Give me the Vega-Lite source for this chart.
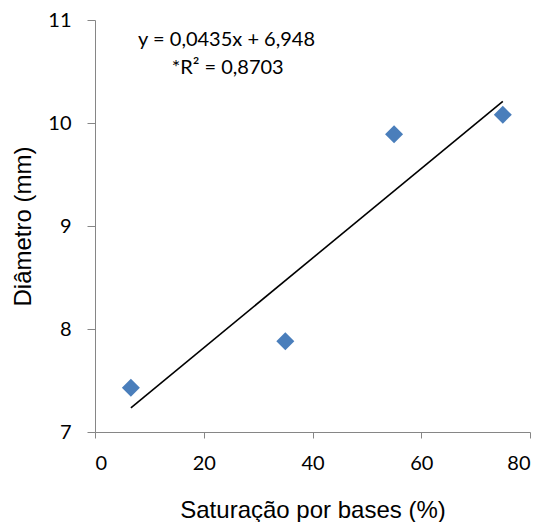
{
  "$schema": "https://vega.github.io/schema/vega-lite/v6.json",
  "width": 435,
  "height": 412,
  "autosize": "none",
  "padding": {"left": 95, "top": 20, "right": 18, "bottom": 90},
  "background": "white",
  "config": {"view": {"stroke": null}},
  "datasets": {
    "points": [
      {"sat": 6.6, "diam": 7.43},
      {"sat": 35, "diam": 7.88},
      {"sat": 55, "diam": 9.89},
      {"sat": 75, "diam": 10.08}
    ],
    "trend": [
      {"sat": 6.6, "diam": 7.235},
      {"sat": 75, "diam": 10.21}
    ],
    "notes": [
      {"sat": 24.2, "diam": 10.81, "label": "y = 0,0435x + 6,948"},
      {"sat": 24.4, "diam": 10.53, "label": "*R² = 0,8703"}
    ]
  },
  "encoding": {
    "x": {
      "field": "sat", "type": "quantitative",
      "scale": {"domain": [0, 80], "nice": false, "zero": false},
      "axis": {
        "title": "Saturação por bases (%)",
        "values": [0, 20, 40, 60, 80],
        "grid": false,
        "domainColor": "#868686", "tickColor": "#868686",
        "tickSize": 6, "labelPadding": 15,
        "labelFont": "Lato", "labelFontSize": 20, "labelColor": "#000000",
        "titleFont": "Liberation Sans", "titleFontSize": 24, "titleFontWeight": "normal",
        "titleColor": "#000000", "titlePadding": 25
      }
    },
    "y": {
      "field": "diam", "type": "quantitative",
      "scale": {"domain": [7, 11], "nice": false, "zero": false},
      "axis": {
        "title": "Diâmetro (mm)",
        "values": [7, 8, 9, 10, 11],
        "grid": false,
        "domainColor": "#868686", "tickColor": "#868686",
        "tickSize": 8, "labelPadding": 16,
        "labelFont": "Lato", "labelFontSize": 20, "labelColor": "#000000",
        "titleFont": "Liberation Sans", "titleFontSize": 24, "titleFontWeight": "normal",
        "titleColor": "#000000", "titlePadding": 12
      }
    }
  },
  "layer": [
    {
      "data": {"name": "trend"},
      "mark": {"type": "line", "color": "#000000", "strokeWidth": 1.6}
    },
    {
      "data": {"name": "points"},
      "mark": {"type": "point", "shape": "diamond", "filled": true, "size": 324, "color": "#4a7ebb", "opacity": 1}
    },
    {
      "data": {"name": "notes"},
      "mark": {"type": "text", "font": "Lato", "fontSize": 20, "color": "#000000", "align": "center", "baseline": "middle"},
      "encoding": {"text": {"field": "label"}}
    }
  ]
}
